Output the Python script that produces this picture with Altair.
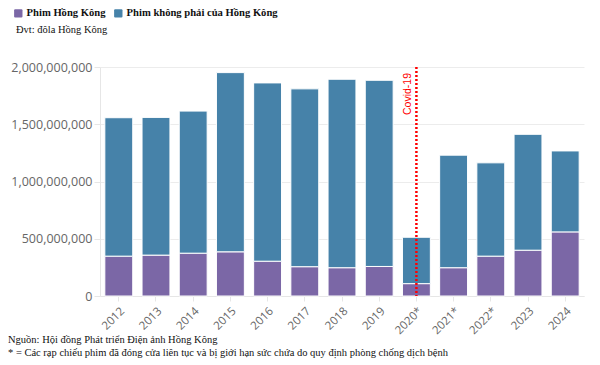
import altair as alt
import pandas as pd

years = ["2012", "2013", "2014", "2015", "2016", "2017", "2018", "2019",
         "2020*", "2021*", "2022*", "2023", "2024"]
totals = [1.557e9, 1.560e9, 1.615e9, 1.951e9, 1.861e9, 1.809e9, 1.893e9,
          1.884e9, 0.513e9, 1.230e9, 1.163e9, 1.412e9, 1.267e9]
hk = [0.348e9, 0.357e9, 0.374e9, 0.386e9, 0.304e9, 0.256e9, 0.247e9,
      0.258e9, 0.108e9, 0.247e9, 0.348e9, 0.400e9, 0.560e9]
series = ["Phim Hồng Kông", "Phim không phải của Hồng Kông"]
colors = ["#7b67a6", "#4682a9"]
y_ticks = [0, 500000000, 1000000000, 1500000000, 2000000000]

rows = []
for y, t, h in zip(years, totals, hk):
    rows.append({"year": y, "series": series[0], "value": h, "ord": 0})
    rows.append({"year": y, "series": series[1], "value": t - h, "ord": 1})
df = pd.DataFrame(rows)

W, H = 484, 229
serif = "Liberation Serif"
sans = "Open Sans"

x_enc = alt.X("year:N", sort=years, title=None,
              scale=alt.Scale(paddingInner=0.25, paddingOuter=0.13),
              axis=alt.Axis(labelAngle=-45, labelFont=sans, labelFontSize=11.5,
                            labelColor="#666", domainColor="#e6e6e6",
                            tickColor="#e6e6e6", tickSize=5, labelPadding=4))

bars = alt.Chart(df).mark_bar(stroke="white", strokeWidth=1).encode(
    x=x_enc,
    y=alt.Y("value:Q", stack="zero", title=None,
            scale=alt.Scale(domain=[0, 2e9], nice=False),
            axis=alt.Axis(values=y_ticks, format=",d", labelFont=sans,
                          labelFontSize=12.5, labelColor="#666",
                          domainColor="#e6e6e6", tickColor="#e6e6e6",
                          tickSize=6, gridColor="#ececec", labelPadding=2)),
    color=alt.Color("series:N", sort=series,
                    scale=alt.Scale(domain=series, range=colors),
                    legend=alt.Legend(title=None, orient="none", direction="horizontal",
                                      legendX=-87, legendY=-59,
                                      symbolType="M-0.75,-1L0.75,-1Q1,-1,1,-0.75L1,0.75Q1,1,0.75,1L-0.75,1Q-1,1,-1,0.75L-1,-0.75Q-1,-1,-0.75,-1Z",
                                      symbolSize=70, symbolStrokeWidth=0,
                                      labelFont=serif, labelFontSize=10.6,
                                      labelFontWeight="bold", labelColor="#111",
                                      labelLimit=400,
                                      columnPadding=7, labelOffset=3, padding=0)),
    order=alt.Order("ord:Q"),
)

covid_df = pd.DataFrame({"year": ["2020*"], "label": ["Covid-19"]})
rule = alt.Chart(covid_df).mark_rule(color="red", strokeWidth=2.5, strokeDash=[2, 2]).encode(
    x=alt.X("year:N", sort=years),
    y=alt.value(0), y2=alt.value(H))
covid_txt = alt.Chart(covid_df).mark_text(
    angle=270, align="right", baseline="bottom", color="red",
    font="Liberation Sans", fontSize=10.5, dy=-3).encode(
    x=alt.X("year:N", sort=years), y=alt.value(6), text="label:N")

notes = pd.DataFrame({
    "t": ["Đvt: đôla Hồng Kông",
          "Nguồn: Hội đồng Phát triển Điện ảnh Hồng Kông",
          "* = Các rạp chiếu phim đã đóng cửa liên tục và bị giới hạn sức chứa do quy định phòng chống dịch bệnh"],
    "px": [-84, -92, -92],
    "py": [-37, 273, 286],
})
note_txt = alt.Chart(notes).mark_text(align="left", baseline="middle", font=serif,
                                      fontSize=10.5, color="#111").encode(
    x=alt.X("px:Q", scale=None), y=alt.Y("py:Q", scale=None), text="t:N")

chart = alt.layer(bars, rule, covid_txt, note_txt).properties(
    width=W, height=H,
    autosize=alt.AutoSizeParams(type="none"),
    padding={"left": 92, "top": 59, "right": 8, "bottom": 70},
).configure_view(stroke=None)

chart.save("out.html", embed_options={"renderer": "svg", "actions": False})
